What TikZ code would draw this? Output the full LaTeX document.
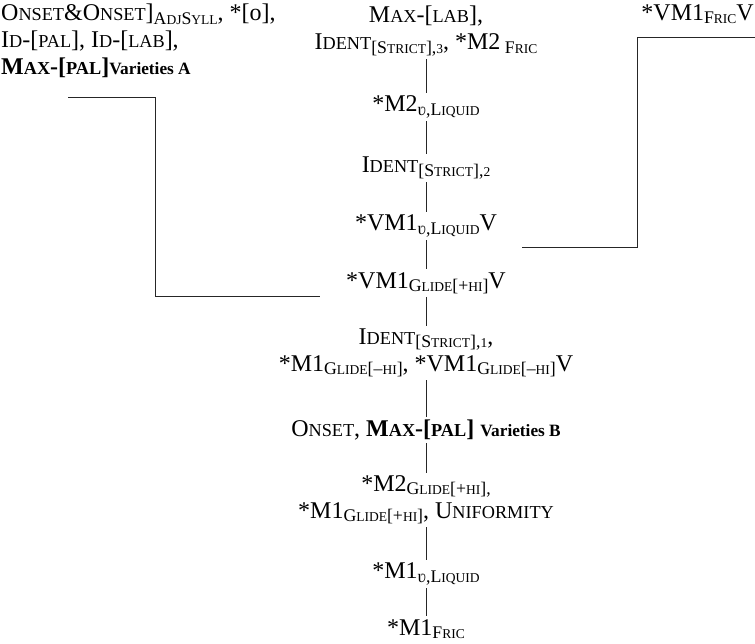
\documentclass[tikz,border=0pt]{standalone}
\usepackage{fontspec}
\setmainfont{Liberation Serif}
\makeatletter
\newcommand{\lsc}[1]{{\fontsize{\fpeval{0.76*\f@size}}{0}\selectfont #1}}
\newcommand{\sbs}[1]{\raisebox{-0.3ex}{\fontsize{\fpeval{0.74*\f@size}}{0}\selectfont #1}}
\newcommand{\vty}[1]{{\fontsize{\fpeval{0.72*\f@size}}{0}\selectfont #1}}
\makeatother

\begin{document}
\begin{tikzpicture}[x=1pt,y=-1pt,
    every node/.style={font=\fontsize{24}{27}\selectfont, inner sep=3pt},
    rank/.style={align=center},
    link/.style={line width=0.9pt, black!85}]
\useasboundingbox (0,0) rectangle (755,644);

% top corners
\node[anchor=north west, align=left] (varA) at (-2,1)
    {O\lsc{NSET}\&O\lsc{NSET}]\sbs{A\lsc{DJ}S\lsc{YLL}}, *[o],\\
     I\lsc{D}-[\lsc{PAL}], I\lsc{D}-[\lsc{LAB}],\\
     \textbf{M\lsc{AX}-[\lsc{PAL}]\vty{Varieties A}}};
\node[anchor=north east] (vmfric) at (757,1) {*VM1\sbs{F\lsc{RIC}}V};

% main column
\node[rank] (maxlab) at (426,31)
    {M\lsc{AX}-[\lsc{LAB}],\\ I\lsc{DENT}\sbs{[S\lsc{TRICT}],\lsc{3}}, *M2\sbs{ F\lsc{RIC}}};
\node[rank] (mtwoliq) at (426,107) {*M2\sbs{ʋ,L\lsc{IQUID}}};
\node[rank] (identtwo) at (426,168) {I\lsc{DENT}\sbs{[S\lsc{TRICT}],\lsc{2}}};
\node[rank] (vmliq) at (426,226) {*VM1\sbs{ʋ,L\lsc{IQUID}}V};
\node[rank] (vmglide) at (426,283) {*VM1\sbs{G\lsc{LIDE}[+\lsc{HI}]}V};
\node[rank] (identone) at (426,353)
    {I\lsc{DENT}\sbs{[S\lsc{TRICT}],\lsc{1}},\\
     *M1\sbs{G\lsc{LIDE}[--\lsc{HI}]}, *VM1\sbs{G\lsc{LIDE}[--\lsc{HI}]}V};
\node[rank] (onset) at (426,430)
    {O\lsc{NSET}, \textbf{M\lsc{AX}-[\lsc{PAL}] \vty{Varieties B}}};
\node[rank] (mglide) at (426,500)
    {*M2\sbs{G\lsc{LIDE}[+\lsc{HI}],}\\ *M1\sbs{G\lsc{LIDE}[+\lsc{HI}]}, U\lsc{NIFORMITY}};
\node[rank] (moneliq) at (426,574) {*M1\sbs{ʋ,L\lsc{IQUID}}};
\node[rank] (mfric) at (426,629) {*M1\sbs{F\lsc{RIC}}};

\draw[link] (maxlab) -- (mtwoliq);
\draw[link] (mtwoliq) -- (identtwo);
\draw[link] (identtwo) -- (vmliq);
\draw[link] (vmliq) -- (vmglide);
\draw[link] (vmglide) -- (identone);
\draw[link] (identone) -- (onset);
\draw[link] (onset) -- (mglide);
\draw[link] (mglide) -- (moneliq);
\draw[link] (moneliq) -- (mfric);

% side brackets
\coordinate (la) at (68,97);
\coordinate (lb) at (320,296);
\draw[link] (la) -- (155,97) |- (lb);
\coordinate (ra) at (755,37);
\coordinate (rb) at (522,247);
\draw[link] (ra) -- (637,37) |- (rb);
\end{tikzpicture}
\end{document}
